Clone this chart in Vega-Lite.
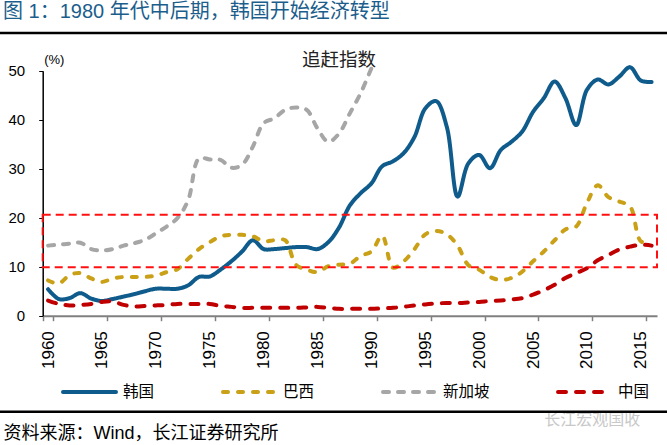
{
  "$schema": "https://vega.github.io/schema/vega-lite/v6.json",
  "width": 667,
  "height": 445,
  "autosize": "none",
  "padding": 0,
  "background": "white",
  "config": {"font": "Liberation Sans, Noto Sans CJK SC", "view": {"stroke": null}},
  "title": {"text": "图 1：1980 年代中后期，韩国开始经济转型", "anchor": "start", "frame": "group", "offset": -22, "dx": 3, "fontSize": 20, "fontWeight": "normal", "color": "#1B5E8C", "font": "Liberation Sans, Noto Sans CJK SC"},
  "data": {"values": [
    {"year":1960,"country":"韩国","value":5.4},{"year":1961,"country":"韩国","value":3.4},{"year":1962,"country":"韩国","value":3.6},{"year":1963,"country":"韩国","value":4.6},{"year":1964,"country":"韩国","value":3.5},{"year":1965,"country":"韩国","value":3.0},{"year":1966,"country":"韩国","value":3.4},{"year":1967,"country":"韩国","value":3.9},{"year":1968,"country":"韩国","value":4.4},{"year":1969,"country":"韩国","value":5.0},
    {"year":1970,"country":"韩国","value":5.5},{"year":1971,"country":"韩国","value":5.5},{"year":1972,"country":"韩国","value":5.5},{"year":1973,"country":"韩国","value":6.2},{"year":1974,"country":"韩国","value":7.9},{"year":1975,"country":"韩国","value":8.0},{"year":1976,"country":"韩国","value":9.4},{"year":1977,"country":"韩国","value":11.1},{"year":1978,"country":"韩国","value":13.1},{"year":1979,"country":"韩国","value":15.4},
    {"year":1980,"country":"韩国","value":13.6},{"year":1981,"country":"韩国","value":13.6},{"year":1982,"country":"韩国","value":13.8},{"year":1983,"country":"韩国","value":14.0},{"year":1984,"country":"韩国","value":14.0},{"year":1985,"country":"韩国","value":13.6},{"year":1986,"country":"韩国","value":15.0},{"year":1987,"country":"韩国","value":18.0},{"year":1988,"country":"韩国","value":22.5},{"year":1989,"country":"韩国","value":25.0},
    {"year":1990,"country":"韩国","value":27.0},{"year":1991,"country":"韩国","value":30.5},{"year":1992,"country":"韩国","value":31.5},{"year":1993,"country":"韩国","value":33.2},{"year":1994,"country":"韩国","value":36.5},{"year":1995,"country":"韩国","value":42.3},{"year":1996,"country":"韩国","value":43.8},{"year":1997,"country":"韩国","value":38.5},{"year":1998,"country":"韩国","value":24.3},{"year":1999,"country":"韩国","value":31.1},
    {"year":2000,"country":"韩国","value":32.8},{"year":2001,"country":"韩国","value":30.1},{"year":2002,"country":"韩国","value":33.8},{"year":2003,"country":"韩国","value":35.5},{"year":2004,"country":"韩国","value":37.6},{"year":2005,"country":"韩国","value":41.6},{"year":2006,"country":"韩国","value":44.4},{"year":2007,"country":"韩国","value":47.8},{"year":2008,"country":"韩国","value":44.4},{"year":2009,"country":"韩国","value":38.9},
    {"year":2010,"country":"韩国","value":46.1},{"year":2011,"country":"韩国","value":48.2},{"year":2012,"country":"韩国","value":47.2},{"year":2013,"country":"韩国","value":48.8},{"year":2014,"country":"韩国","value":50.7},{"year":2015,"country":"韩国","value":48.0},{"year":2016,"country":"韩国","value":47.7},

    {"year":1960,"country":"巴西","value":7.2},{"year":1961,"country":"巴西","value":6.6},{"year":1962,"country":"巴西","value":8.3},{"year":1963,"country":"巴西","value":8.7},{"year":1964,"country":"巴西","value":7.6},{"year":1965,"country":"巴西","value":6.9},{"year":1966,"country":"巴西","value":7.6},{"year":1967,"country":"巴西","value":7.9},{"year":1968,"country":"巴西","value":7.9},{"year":1969,"country":"巴西","value":7.9},
    {"year":1970,"country":"巴西","value":8.2},{"year":1971,"country":"巴西","value":8.9},{"year":1972,"country":"巴西","value":9.5},{"year":1973,"country":"巴西","value":11.6},{"year":1974,"country":"巴西","value":13.6},{"year":1975,"country":"巴西","value":15.0},{"year":1976,"country":"巴西","value":16.2},{"year":1977,"country":"巴西","value":16.5},{"year":1978,"country":"巴西","value":16.5},{"year":1979,"country":"巴西","value":16.2},
    {"year":1980,"country":"巴西","value":15.2},{"year":1981,"country":"巴西","value":15.4},{"year":1982,"country":"巴西","value":15.4},{"year":1983,"country":"巴西","value":10.4},{"year":1984,"country":"巴西","value":9.4},{"year":1985,"country":"巴西","value":8.9},{"year":1986,"country":"巴西","value":10.1},{"year":1987,"country":"巴西","value":10.4},{"year":1988,"country":"巴西","value":10.6},{"year":1989,"country":"巴西","value":12.2},
    {"year":1990,"country":"巴西","value":13.1},{"year":1991,"country":"巴西","value":16.3},{"year":1992,"country":"巴西","value":9.8},{"year":1993,"country":"巴西","value":11.1},{"year":1994,"country":"巴西","value":13.6},{"year":1995,"country":"巴西","value":16.6},{"year":1996,"country":"巴西","value":17.3},{"year":1997,"country":"巴西","value":16.6},{"year":1998,"country":"巴西","value":14.3},{"year":1999,"country":"巴西","value":10.3},
    {"year":2000,"country":"巴西","value":9.4},{"year":2001,"country":"巴西","value":7.9},{"year":2002,"country":"巴西","value":7.3},{"year":2003,"country":"巴西","value":7.7},{"year":2004,"country":"巴西","value":9.0},{"year":2005,"country":"巴西","value":11.1},{"year":2006,"country":"巴西","value":13.1},{"year":2007,"country":"巴西","value":15.4},{"year":2008,"country":"巴西","value":17.6},{"year":2009,"country":"巴西","value":18.2},
    {"year":2010,"country":"巴西","value":23.0},{"year":2011,"country":"巴西","value":26.6},{"year":2012,"country":"巴西","value":24.2},{"year":2013,"country":"巴西","value":23.3},{"year":2014,"country":"巴西","value":22.3},{"year":2015,"country":"巴西","value":15.2},{"year":2016,"country":"巴西","value":14.9},

    {"year":1960,"country":"新加坡","value":14.3},{"year":1961,"country":"新加坡","value":14.5},{"year":1962,"country":"新加坡","value":14.7},{"year":1963,"country":"新加坡","value":14.9},{"year":1964,"country":"新加坡","value":13.6},{"year":1965,"country":"新加坡","value":13.3},{"year":1966,"country":"新加坡","value":13.6},{"year":1967,"country":"新加坡","value":14.3},{"year":1968,"country":"新加坡","value":14.8},{"year":1969,"country":"新加坡","value":15.5},
    {"year":1970,"country":"新加坡","value":16.8},{"year":1971,"country":"新加坡","value":18.2},{"year":1972,"country":"新加坡","value":19.9},{"year":1973,"country":"新加坡","value":23.6},{"year":1974,"country":"新加坡","value":32.1},{"year":1975,"country":"新加坡","value":31.9},{"year":1976,"country":"新加坡","value":31.8},{"year":1977,"country":"新加坡","value":30.2},{"year":1978,"country":"新加坡","value":30.8},{"year":1979,"country":"新加坡","value":34.5},
    {"year":1980,"country":"新加坡","value":39.3},{"year":1981,"country":"新加坡","value":40.3},{"year":1982,"country":"新加坡","value":42.0},{"year":1983,"country":"新加坡","value":42.5},{"year":1984,"country":"新加坡","value":42.0},{"year":1985,"country":"新加坡","value":38.2},{"year":1986,"country":"新加坡","value":35.5},{"year":1987,"country":"新加坡","value":37.2},{"year":1988,"country":"新加坡","value":41.3},{"year":1989,"country":"新加坡","value":45.4},
    {"year":1990,"country":"新加坡","value":50.5},

    {"year":1960,"country":"中国","value":3.1},{"year":1961,"country":"中国","value":2.4},{"year":1962,"country":"中国","value":2.1},{"year":1963,"country":"中国","value":2.2},{"year":1964,"country":"中国","value":2.4},{"year":1965,"country":"中国","value":2.8},{"year":1966,"country":"中国","value":2.9},{"year":1967,"country":"中国","value":2.2},{"year":1968,"country":"中国","value":1.9},{"year":1969,"country":"中国","value":2.0},
    {"year":1970,"country":"中国","value":2.1},{"year":1971,"country":"中国","value":2.2},{"year":1972,"country":"中国","value":2.4},{"year":1973,"country":"中国","value":2.4},{"year":1974,"country":"中国","value":2.4},{"year":1975,"country":"中国","value":2.4},{"year":1976,"country":"中国","value":2.0},{"year":1977,"country":"中国","value":1.8},{"year":1978,"country":"中国","value":1.6},{"year":1979,"country":"中国","value":1.6},
    {"year":1980,"country":"中国","value":1.6},{"year":1981,"country":"中国","value":1.6},{"year":1982,"country":"中国","value":1.6},{"year":1983,"country":"中国","value":1.6},{"year":1984,"country":"中国","value":1.7},{"year":1985,"country":"中国","value":1.8},{"year":1986,"country":"中国","value":1.6},{"year":1987,"country":"中国","value":1.4},{"year":1988,"country":"中国","value":1.4},{"year":1989,"country":"中国","value":1.4},
    {"year":1990,"country":"中国","value":1.4},{"year":1991,"country":"中国","value":1.5},{"year":1992,"country":"中国","value":1.6},{"year":1993,"country":"中国","value":1.8},{"year":1994,"country":"中国","value":2.1},{"year":1995,"country":"中国","value":2.3},{"year":1996,"country":"中国","value":2.5},{"year":1997,"country":"中国","value":2.6},{"year":1998,"country":"中国","value":2.6},{"year":1999,"country":"中国","value":2.7},
    {"year":2000,"country":"中国","value":2.8},{"year":2001,"country":"中国","value":3.0},{"year":2002,"country":"中国","value":3.1},{"year":2003,"country":"中国","value":3.3},{"year":2004,"country":"中国","value":3.6},{"year":2005,"country":"中国","value":4.3},{"year":2006,"country":"中国","value":5.2},{"year":2007,"country":"中国","value":6.3},{"year":2008,"country":"中国","value":7.7},{"year":2009,"country":"中国","value":8.7},
    {"year":2010,"country":"中国","value":9.7},{"year":2011,"country":"中国","value":11.3},{"year":2012,"country":"中国","value":12.4},{"year":2013,"country":"中国","value":13.5},{"year":2014,"country":"中国","value":14.1},{"year":2015,"country":"中国","value":14.5},{"year":2016,"country":"中国","value":14.3}
  ]},
  "layer": [
    {
      "mark": {"type": "line", "interpolate": "catmull-rom", "strokeCap": "round", "strokeJoin": "round"},
      "encoding": {
        "x": {
          "field": "year", "type": "ordinal", "bandPosition": 0.5,
          "scale": {"type": "band", "domain": [1960,1961,1962,1963,1964,1965,1966,1967,1968,1969,1970,1971,1972,1973,1974,1975,1976,1977,1978,1979,1980,1981,1982,1983,1984,1985,1986,1987,1988,1989,1990,1991,1992,1993,1994,1995,1996,1997,1998,1999,2000,2001,2002,2003,2004,2005,2006,2007,2008,2009,2010,2011,2012,2013,2014,2015,2016], "range": [42.7, 657], "paddingInner": 0, "paddingOuter": 0},
          "axis": {
            "orient": "bottom", "offset": -129.3,
            "values": [1960,1965,1970,1975,1980,1985,1990,1995,2000,2005,2010,2015],
            "tickBand": "extent", "labelAngle": 270, "labelFontSize": 17, "labelPadding": 10, "labelColor": "black",
            "tickSize": 5, "tickColor": "#808080", "tickWidth": 1.5, "domainColor": "#808080", "domainWidth": 2, "grid": false,
            "title": "资料来源：Wind，长江证券研究所", "titleX": 3, "titleY": 117.3, "titleAlign": "left", "titleAnchor": "start",
            "titleBaseline": "middle", "titleFontSize": 18, "titleFontWeight": "normal", "titleColor": "black"
          }
        },
        "y": {
          "field": "value", "type": "quantitative",
          "scale": {"domain": [0, 50], "range": [315.7, 70.7], "nice": false, "zero": true},
          "axis": {
            "orient": "left", "offset": -42.7, "values": [0,10,20,30,40,50],
            "labelFontSize": 15, "labelPadding": 14, "labelColor": "black",
            "tickSize": 4, "tickColor": "black", "domainColor": "black", "domainWidth": 1.5, "grid": false,
            "title": "(%)", "titleAngle": 0, "titleX": 1, "titleY": 59, "titleAlign": "left", "titleBaseline": "middle",
            "titleFontSize": 13, "titleFontWeight": "normal", "titleColor": "black"
          }
        },
        "color": {
          "field": "country", "type": "nominal",
          "scale": {"domain": ["韩国", "巴西", "新加坡", "中国"], "range": ["#0F5C8C", "#C9A016", "#A6A6A6", "#C00000"]},
          "legend": {"title": null, "orient": "none", "legendX": 61, "legendY": 363.5, "direction": "horizontal", "columnPadding": 60, "symbolType": "stroke", "symbolSize": 2809, "symbolStrokeWidth": 4.5, "labelFontSize": 15.5, "labelOffset": 5, "labelColor": "black", "padding": 0, "encode": {"symbols": {"update": {"strokeCap": {"value": "round"}}}}}
        },
        "strokeDash": {
          "field": "country", "type": "nominal",
          "scale": {"domain": ["韩国", "巴西", "新加坡", "中国"], "range": [[1, 0], [5, 10], [6, 9], [8, 10]]},
          "legend": {"title": null, "orient": "none", "legendX": 61, "legendY": 363.5, "direction": "horizontal", "columnPadding": 60, "symbolType": "stroke", "symbolSize": 2809, "symbolStrokeWidth": 4.5, "labelFontSize": 15.5, "labelOffset": 5, "labelColor": "black", "padding": 0, "encode": {"symbols": {"update": {"strokeCap": {"value": "round"}}}}}
        },
        "strokeWidth": {
          "field": "country", "type": "nominal",
          "scale": {"domain": ["韩国", "巴西", "新加坡", "中国"], "range": [4, 4, 4, 5]},
          "legend": null
        }
      }
    },
    {
      "data": {"values": [{}]},
      "mark": {"type": "rect", "fill": "transparent", "stroke": "#FF1010", "strokeWidth": 2, "strokeDash": [8, 5]},
      "encoding": {
        "x": {"datum": 1960, "type": "ordinal", "bandPosition": 0},
        "x2": {"datum": 2016, "bandPosition": 1},
        "y": {"datum": 20.6, "type": "quantitative"},
        "y2": {"datum": 9.9}
      }
    },
    {
      "data": {"values": [{}]},
      "mark": {"type": "text", "fontSize": 18.5, "color": "#222222", "align": "center", "baseline": "middle"},
      "encoding": {
        "x": {"datum": 1987, "type": "ordinal", "bandPosition": 0.5},
        "y": {"datum": 52.2, "type": "quantitative"},
        "text": {"value": "追赶指数"}
      }
    },
    {
      "data": {"values": [{}]},
      "mark": {"type": "text", "fontSize": 16, "color": "#C8C8C8", "align": "center", "baseline": "middle"},
      "encoding": {
        "x": {"datum": 2011, "type": "ordinal", "bandPosition": 0},
        "y": {"datum": -21.3, "type": "quantitative"},
        "text": {"value": "长江宏观国收"}
      }
    },
    {
      "data": {"values": [{}]},
      "mark": {"type": "rule", "color": "black", "strokeWidth": 2.5},
      "encoding": {"y": {"datum": 57.7, "type": "quantitative"}}
    },
    {
      "data": {"values": [{}]},
      "mark": {"type": "rule", "color": "black", "strokeWidth": 2.5},
      "encoding": {"y": {"datum": -19.6, "type": "quantitative"}}
    }
  ]
}
